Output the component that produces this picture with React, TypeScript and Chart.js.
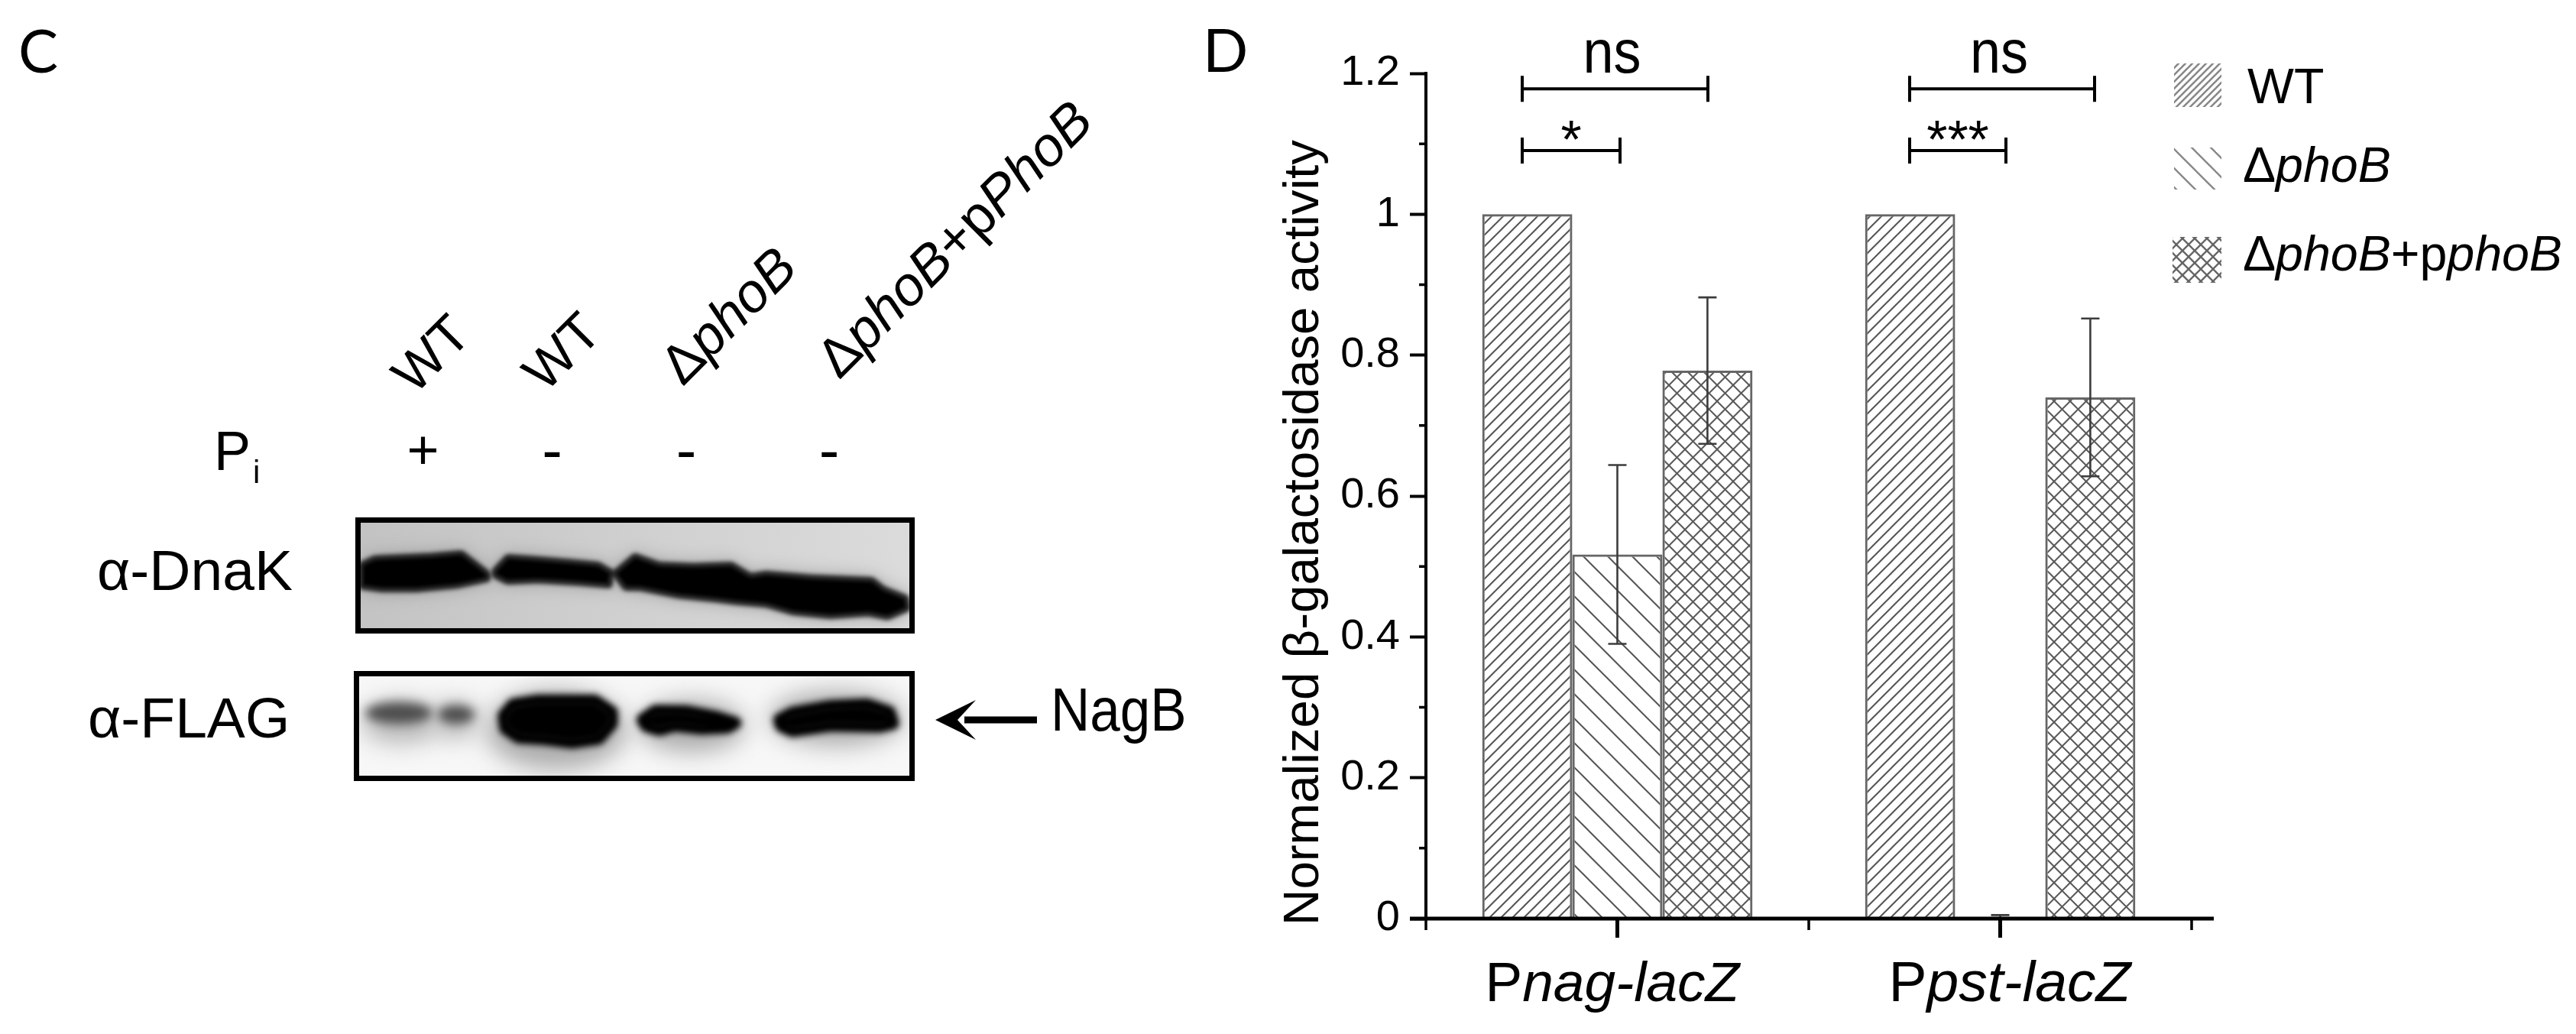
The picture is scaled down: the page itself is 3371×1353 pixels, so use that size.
import React, { useEffect, useRef } from "react";
import { Chart, registerables } from "chart.js";

Chart.register(...registerables);

const categories = ["Pnag-lacZ", "Ppst-lacZ"];
const seriesNames = ["WT", "\u0394phoB", "\u0394phoB+pphoB"];
const wtValues = [1, 1];
const phoBValues = [0.517, 0.002];
const complementValues = [0.778, 0.74];
const wtErrors = [0, 0];
const phoBErrors = [0.127, 0.003];
const complementErrors = [0.104, 0.112];
const yTickLabels = ["0", "", "0.2", "", "0.4", "", "0.6", "", "0.8", "", "1", "", "1.2"];
const yAxisTitle = "Normalized \u03b2-galactosidase activity";
const sigTop = [1.178, 1.178];
const sigLow = [1.0905, 1.0905];
const sigTopText = ["ns", "ns"];
const sigLowText = ["*", "***"];

const SANS = '"Liberation Sans", Arial, sans-serif';
type Run = [string, boolean?];

let legendPatterns: CanvasPattern[] = [];

function font(size: number, italic = false) {
  return `${italic ? "italic " : ""}${size}px ${SANS}`;
}

function runsWidth(ctx: CanvasRenderingContext2D, runs: Run[], size: number) {
  let w = 0;
  for (const [t, it] of runs) {
    ctx.font = font(size, !!it);
    w += ctx.measureText(t).width;
  }
  return w;
}

function drawRuns(ctx: CanvasRenderingContext2D, runs: Run[], x: number, y: number, size: number) {
  let cx = x;
  ctx.textAlign = "left";
  for (const [t, it] of runs) {
    ctx.font = font(size, !!it);
    ctx.fillText(t, cx, y);
    cx += ctx.measureText(t).width;
  }
}

function tallText(ctx: CanvasRenderingContext2D, text: string, x: number, y: number, stretch: number) {
  ctx.save();
  ctx.translate(x, y);
  ctx.scale(1, stretch);
  ctx.fillText(text, 0, 0);
  ctx.restore();
}

function makeHatch(kind: "up" | "down" | "cross", period: number, width: number, color: string) {
  const c = document.createElement("canvas");
  c.width = period;
  c.height = period;
  const g = c.getContext("2d")!;
  g.strokeStyle = color;
  g.lineWidth = width;
  const up = () => {
    for (let k = -1; k <= 1; k++) {
      g.beginPath();
      g.moveTo(k * period - 2, period + 2);
      g.lineTo(k * period + period + 2, -2);
      g.stroke();
    }
  };
  const down = () => {
    for (let k = -1; k <= 1; k++) {
      g.beginPath();
      g.moveTo(k * period - 2, -2);
      g.lineTo(k * period + period + 2, period + 2);
      g.stroke();
    }
  };
  if (kind === "up" || kind === "cross") up();
  if (kind === "down" || kind === "cross") down();
  return g.createPattern(c, "repeat") as CanvasPattern;
}

const zx = (x: number) => 440 + x / 2.01;
const zy = (y: number) => 660 + y / 3;

const dnakBands = [
  [[65, 235], [100, 210], [250, 200], [330, 190], [400, 270], [400, 295], [320, 320], [210, 335], [120, 335], [65, 325]],
  [[415, 260], [450, 205], [520, 212], [620, 225], [690, 235], [725, 265], [720, 320], [640, 310], [530, 300], [450, 305], [415, 280]],
  [[730, 270], [785, 200], [850, 235], [940, 240], [1040, 235], [1090, 280], [1130, 270], [1250, 285], [1410, 295], [1440, 330], [1500, 365], [1505, 410], [1450, 445], [1400, 430], [1300, 440], [1200, 425], [1130, 395], [1050, 385], [1000, 375], [900, 360], [800, 330], [760, 330]],
];
const flagBands = [
  [[440, 830], [465, 785], [530, 770], [680, 770], [725, 815], [725, 860], [690, 920], [620, 935], [540, 920], [480, 915], [445, 880]],
  [[805, 845], [840, 810], [920, 812], [1000, 835], [1050, 858], [1030, 875], [960, 880], [890, 868], [850, 885], [815, 870]],
  [[1165, 845], [1200, 818], [1300, 792], [1395, 785], [1455, 815], [1465, 860], [1430, 872], [1300, 868], [1200, 890], [1170, 870]],
];

function polyPath(ctx: CanvasRenderingContext2D, pts: number[][]) {
  ctx.beginPath();
  pts.forEach(([x, y], i) => (i ? ctx.lineTo(zx(x), zy(y)) : ctx.moveTo(zx(x), zy(y))));
  ctx.closePath();
}

function blob(ctx: CanvasRenderingContext2D, x: number, y: number, rx: number, ry: number) {
  ctx.beginPath();
  ctx.ellipse(x, y, rx, ry, 0, 0, Math.PI * 2);
  ctx.fill();
}

function drawBlots(ctx: CanvasRenderingContext2D) {
  // DnaK
  ctx.save();
  ctx.beginPath();
  ctx.rect(465, 677, 732, 152);
  ctx.clip();
  const bg = ctx.createLinearGradient(465, 677, 1197, 829);
  bg.addColorStop(0, "#c2c2c2");
  bg.addColorStop(0.5, "#d0d0d0");
  bg.addColorStop(1, "#dcdcdc");
  ctx.fillStyle = bg;
  ctx.fillRect(465, 677, 732, 152);
  ctx.filter = "blur(12px)";
  ctx.fillStyle = "#8a8a8a";
  dnakBands.forEach((b) => { polyPath(ctx, b); ctx.fill(); });
  ctx.filter = "blur(3px)";
  ctx.fillStyle = "#000";
  ctx.strokeStyle = "#000";
  ctx.lineJoin = "round";
  ctx.lineWidth = 4;
  dnakBands.forEach((b) => { polyPath(ctx, b); ctx.fill(); ctx.stroke(); });
  ctx.restore();
  // FLAG
  ctx.save();
  ctx.beginPath();
  ctx.rect(463, 878, 734, 144);
  ctx.clip();
  ctx.fillStyle = "#f7f7f7";
  ctx.fillRect(463, 878, 734, 144);
  ctx.filter = "blur(15px)";
  ctx.fillStyle = "#adadad";
  blob(ctx, 728, 955, 92, 52);
  blob(ctx, 905, 950, 70, 34);
  blob(ctx, 1095, 940, 88, 36);
  ctx.fillStyle = "#b8b8b8";
  blob(ctx, 525, 945, 52, 28);
  blob(ctx, 597, 942, 30, 24);
  ctx.filter = "blur(7px)";
  ctx.fillStyle = "#4e4e4e";
  blob(ctx, 522, 933, 44, 14);
  blob(ctx, 597, 935, 24, 12);
  ctx.filter = "blur(4px)";
  ctx.fillStyle = "#000";
  ctx.strokeStyle = "#000";
  ctx.lineJoin = "round";
  ctx.lineWidth = 16;
  flagBands.forEach((b) => { polyPath(ctx, b); ctx.fill(); ctx.stroke(); });
  ctx.restore();
  // frames
  ctx.strokeStyle = "#000";
  ctx.lineWidth = 7;
  ctx.strokeRect(468.5, 680.5, 725, 145);
  ctx.strokeRect(466.5, 881.5, 727, 137);
}

function drawPanelC(ctx: CanvasRenderingContext2D) {
  ctx.save();
  ctx.fillStyle = "#000";
  ctx.textBaseline = "alphabetic";
  ctx.textAlign = "left";
  ctx.font = '78px Lato, "Open Sans", sans-serif';
  ctx.fillText("C", 24, 95);
  ctx.fillText("D", 1574, 94);

  const rotated: [Run[], number, number, number][] = [
    [[["WT"]], 567, 466, 70],
    [[["WT"]], 738, 463, 70],
    [[["\u0394"], ["phoB", true]], 956, 416, 72],
    [[["\u0394"], ["phoB", true], ["+p"], ["PhoB", true]], 1252, 316, 72],
  ];
  for (const [runs, cx, cy, size] of rotated) {
    ctx.save();
    ctx.translate(cx, cy);
    ctx.rotate(-Math.PI / 4);
    ctx.textBaseline = "middle";
    const w = runsWidth(ctx, runs, size);
    drawRuns(ctx, runs, -w / 2, 0, size);
    ctx.restore();
  }

  ctx.textAlign = "left";
  ctx.font = font(72);
  ctx.fillText("P", 280, 615);
  ctx.font = font(42);
  ctx.fillText("i", 331, 632);
  ctx.textAlign = "center";
  ctx.font = font(72);
  ctx.fillText("+", 553.5, 613);
  ctx.font = font(80);
  ctx.fillText("-", 722.5, 616);
  ctx.fillText("-", 898, 616);
  ctx.fillText("-", 1085, 616);
  ctx.textAlign = "left";
  ctx.font = font(75);
  ctx.fillText("\u03b1-DnaK", 127, 772);
  ctx.fillText("\u03b1-FLAG", 115, 965);
  ctx.font = font(71);
  tallText(ctx, "NagB", 1375, 956, 1.12);

  drawBlots(ctx);

  // arrow
  ctx.fillRect(1262, 937.5, 95, 9);
  ctx.beginPath();
  ctx.moveTo(1224, 942);
  ctx.lineTo(1277, 916);
  ctx.lineTo(1253, 942);
  ctx.lineTo(1277, 968);
  ctx.closePath();
  ctx.fill();
  ctx.restore();
}

const panelPlugin = {
  id: "panelC",
  beforeDraw(chart: any) {
    drawPanelC(chart.ctx);
  },
};

const errorBarPlugin = {
  id: "errorBars",
  afterDatasetsDraw(chart: any) {
    const { ctx, scales } = chart;
    const errors = [wtErrors, phoBErrors, complementErrors];
    ctx.save();
    errors.forEach((errs, d) => {
      const meta = chart.getDatasetMeta(d);
      errs.forEach((e, i) => {
        if (!e) return;
        const v = chart.data.datasets[d].data[i] as number;
        const x = meta.data[i].x;
        const hi = scales.y.getPixelForValue(v + e);
        const lo = scales.y.getPixelForValue(Math.max(v - e, 0));
        ctx.strokeStyle = "#3c3c3c";
        ctx.lineWidth = 2.6;
        ctx.beginPath();
        ctx.moveTo(x, hi);
        ctx.lineTo(x, lo);
        ctx.moveTo(x - 12, hi);
        ctx.lineTo(x + 12, hi);
        ctx.moveTo(x - 12, lo);
        ctx.lineTo(x + 12, lo);
        ctx.stroke();
      });
    });
    ctx.restore();
  },
};

const annotationPlugin = {
  id: "annotations",
  afterDraw(chart: any) {
    const { ctx, scales } = chart;
    const { x: xs, y: ys } = scales;
    ctx.save();
    ctx.fillStyle = "#000";
    ctx.strokeStyle = "#000";
    ctx.textBaseline = "alphabetic";

    // baseline, running past the last tick
    const y0 = ys.getPixelForValue(0);
    ctx.lineWidth = 5;
    ctx.beginPath();
    ctx.moveTo(chart.chartArea.left - 21, y0);
    ctx.lineTo(chart.chartArea.right + 29, y0);
    ctx.stroke();

    // minor ticks
    ctx.lineWidth = 3.5;
    ctx.beginPath();
    yTickLabels.forEach((t, i) => {
      if (t) return;
      const p = ys.getPixelForTick(i);
      ctx.moveTo(chart.chartArea.left - 9, p);
      ctx.lineTo(chart.chartArea.left, p);
    });
    const c0 = xs.getPixelForValue(0);
    const c1 = xs.getPixelForValue(1);
    const band = c1 - c0;
    [c0 - band / 2, c0 + band / 2, c1 + band / 2].forEach((p) => {
      ctx.moveTo(p, y0);
      ctx.lineTo(p, y0 + 15);
    });
    ctx.stroke();

    // category labels with an upright P
    const labelStarts = [-173, -146];
    const labelSizes = [73, 75];
    categories.forEach((name, i) => {
      const runs: Run[] = [[name[0]], [name.slice(1), true]];
      drawRuns(ctx, runs, xs.getPixelForValue(i) + labelStarts[i], 1310, labelSizes[i]);
    });

    // axis title
    ctx.save();
    ctx.translate(1725, 697);
    ctx.rotate(-Math.PI / 2);
    ctx.font = font(65.5);
    ctx.textAlign = "center";
    ctx.fillText(yAxisTitle, 0, 0);
    ctx.restore();

    // significance brackets
    const spans = [
      [[-124.5, 118.5], [-124.5, 3.5]],
      [[-118.5, 123.5], [-118.5, 7.5]],
    ];
    const capH = 17;
    categories.forEach((_, i) => {
      const c = xs.getPixelForValue(i);
      [sigTop[i], sigLow[i]].forEach((v, k) => {
        const yp = ys.getPixelForValue(v);
        const [a, b] = spans[i][k];
        ctx.lineWidth = 4;
        ctx.beginPath();
        ctx.moveTo(c + a, yp - capH);
        ctx.lineTo(c + a, yp + capH);
        ctx.moveTo(c + b, yp - capH);
        ctx.lineTo(c + b, yp + capH);
        ctx.moveTo(c + a, yp);
        ctx.lineTo(c + b, yp);
        ctx.stroke();
        ctx.textAlign = "center";
        const mid = c + (a + b) / 2;
        if (k === 0) {
          ctx.font = font(72);
          tallText(ctx, sigTopText[i], mid - 4, 95, 1.1);
        } else {
          ctx.font = font(70);
          ctx.fillText(sigLowText[i], mid, 207);
        }
      });
    });

    // legend
    const rows: [number, number, number, number, number, Run[]][] = [
      [2845, 83, 57, 2941, 135, [[seriesNames[0]]]],
      [2845, 193, 55, 2935, 238, [["\u0394"], ["phoB", true]]],
      [2843, 310, 60, 2935, 354, [["\u0394"], ["phoB", true], ["+p"], ["phoB", true]]],
    ];
    rows.forEach(([left, top, h, tx, base, runs], i) => {
      ctx.fillStyle = legendPatterns[i];
      ctx.fillRect(left, top, 2907 - left, h);
      ctx.fillStyle = "#000";
      drawRuns(ctx, runs, tx, base, 64.5);
    });
    ctx.restore();
  },
};

export default function App() {
  const ref = useRef<HTMLCanvasElement>(null);
  useEffect(() => {
    if (!ref.current) return;
    const hatchWT = makeHatch("up", 15, 2, "#555");
    const hatchPho = makeHatch("down", 32, 2, "#555");
    const hatchCross = makeHatch("cross", 21, 2, "#5a5a5a");
    legendPatterns = [
      makeHatch("up", 9, 2.6, "#888"),
      makeHatch("down", 25, 2.4, "#888"),
      makeHatch("cross", 16, 2.4, "#666"),
    ];
    const dataset = (label: string, data: number[], backgroundColor: CanvasPattern) => ({
      label,
      data,
      backgroundColor,
      borderColor: "#666",
      borderWidth: 3,
      categoryPercentage: 0.706,
      barPercentage: 1,
    });
    const chart: any = new Chart(ref.current, {
      type: "bar",
      data: {
        labels: categories,
        datasets: [
          dataset(seriesNames[0], wtValues, hatchWT),
          dataset(seriesNames[1], phoBValues, hatchPho),
          dataset(seriesNames[2], complementValues, hatchCross),
        ],
      },
      options: {
        responsive: false,
        animation: false,
        devicePixelRatio: 1,
        layout: { padding: { left: 1660, top: 96, right: 503, bottom: 0 } },
        plugins: { legend: { display: false }, tooltip: { enabled: false }, title: { display: false } },
        scales: {
          x: {
            offset: true,
            afterFit: (s: any) => { s.height = 151; },
            border: { display: false },
            grid: { offset: false, drawOnChartArea: false, tickLength: 25, tickWidth: 5, tickColor: "#000" },
            ticks: { display: false },
          },
          y: {
            min: 0,
            max: 1.2,
            afterFit: (s: any) => { s.width = 206; },
            border: { display: true, color: "#000", width: 4 },
            grid: {
              drawOnChartArea: false,
              tickLength: 21,
              tickWidth: 4,
              tickColor: (c: any) => (yTickLabels[c.index] ? "#000" : "transparent"),
            },
            ticks: {
              stepSize: 0.1,
              autoSkip: false,
              color: "#000",
              padding: 13,
              font: { family: "Liberation Sans", size: 56 },
              callback: (_v: any, i: number) => yTickLabels[i],
            },
          },
        },
      },
      plugins: [panelPlugin, errorBarPlugin, annotationPlugin],
    });
    return () => chart.destroy();
  }, []);
  return (
    <canvas
      ref={ref}
      width={3371}
      height={1353}
      style={{ position: "absolute", left: 0, top: 0, display: "block", width: 3371, height: 1353 }}
    />
  );
}
